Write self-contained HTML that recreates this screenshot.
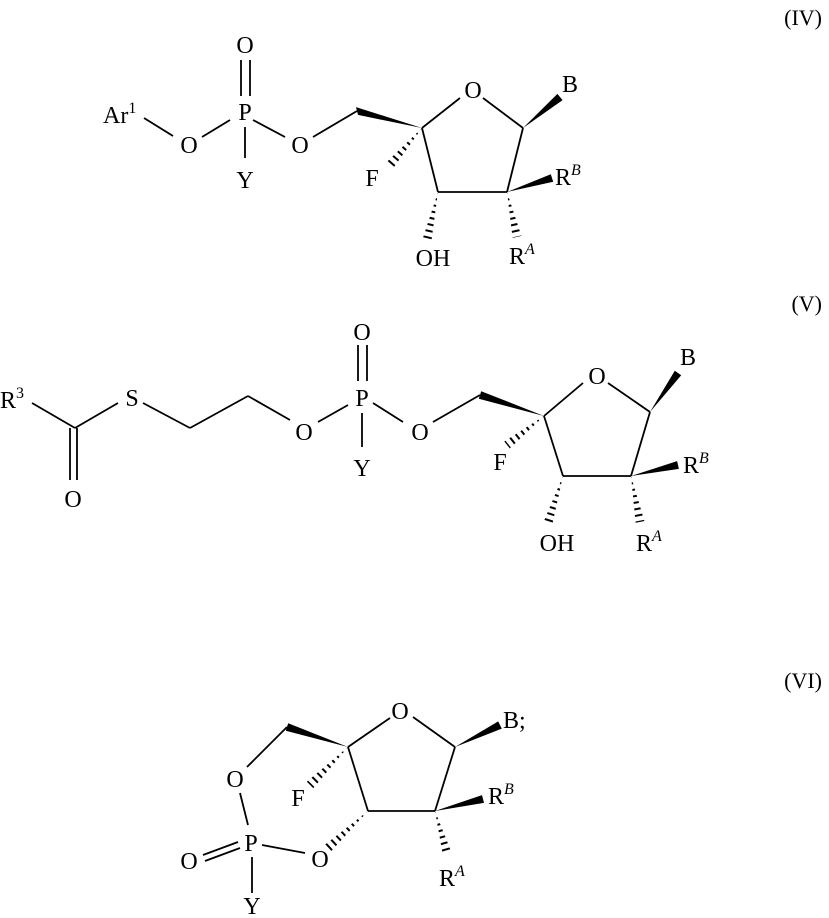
<!DOCTYPE html>
<html><head><meta charset="utf-8"><style>
html,body{margin:0;padding:0;background:#fff}
svg{display:block}
text{font-family:"Liberation Serif",serif;font-size:24px;fill:#000}
.s{font-size:16px}
.l{stroke:#000;stroke-width:1.8;fill:none}
.h{stroke:#000;stroke-width:12;stroke-dasharray:2 4.5}
</style></head><body>
<svg width="829" height="918" viewBox="0 0 829 918">
<defs>
<clipPath id="c1"><polygon points="422,128 393.4,167.9 386.6,162.1"/></clipPath>
<clipPath id="c2"><polygon points="438,192 431.4,241 422.6,239"/></clipPath>
<clipPath id="c3"><polygon points="507,192 521.4,236 512.6,238"/></clipPath>
<clipPath id="c4"><polygon points="544,416 509.8,448.5 504.2,441.5"/></clipPath>
<clipPath id="c5"><polygon points="563,476 552.3,524.4 543.7,521.6"/></clipPath>
<clipPath id="c6"><polygon points="631,476 644.4,521.1 635.6,522.9"/></clipPath>
<clipPath id="c7"><polygon points="368,811 331.1,851.3 324.9,844.7"/></clipPath>
<clipPath id="c8"><polygon points="348,747 313.2,788.2 306.8,781.8"/></clipPath>
<clipPath id="c9"><polygon points="435,811 451.3,851.8 442.7,854.2"/></clipPath>
</defs>

<text x="822" y="25" text-anchor="end" style="font-size:22px">(IV)</text>
<text x="822" y="311" text-anchor="end" style="font-size:22px">(V)</text>
<text x="822" y="688" text-anchor="end" style="font-size:22px">(VI)</text>

<!-- IV -->
<text x="103" y="123">Ar<tspan class="s" dy="-10">1</tspan></text>
<line class="l" x1="144" y1="118" x2="173" y2="136"/>
<text x="189" y="153" text-anchor="middle">O</text>
<line class="l" x1="202" y1="137" x2="230" y2="120"/>
<text x="245" y="120" text-anchor="middle">P</text>
<line class="l" x1="241" y1="60" x2="241" y2="96"/>
<line class="l" x1="250" y1="60" x2="250" y2="96"/>
<text x="245" y="53" text-anchor="middle">O</text>
<line class="l" x1="245" y1="127" x2="245" y2="158"/>
<text x="245" y="188" text-anchor="middle">Y</text>
<line class="l" x1="253" y1="120" x2="285" y2="137"/>
<text x="300" y="153" text-anchor="middle">O</text>
<line class="l" x1="313" y1="137" x2="357" y2="111"/>
<polygon points="356,107.1 358,114.9 422,128"/>
<line class="l" x1="422" y1="128" x2="460" y2="98"/>
<text x="473" y="98" text-anchor="middle">O</text>
<line class="l" x1="483" y1="98" x2="523" y2="128"/>
<polygon points="523,128 557.4,93.9 562.6,100.1"/>
<text x="570" y="92" text-anchor="middle">B</text>
<line class="l" x1="523" y1="128" x2="507" y2="192"/>
<line class="l" x1="507" y1="192" x2="438" y2="192"/>
<line class="l" x1="438" y1="192" x2="422" y2="128"/>
<line class="h" x1="422" y1="128" x2="390" y2="165" clip-path="url(#c1)"/>
<text x="372" y="186" text-anchor="middle">F</text>
<line class="h" x1="438" y1="192" x2="427" y2="240" clip-path="url(#c2)"/>
<text x="433" y="266" text-anchor="middle">OH</text>
<polygon points="507,192 550.8,174.2 553.2,181.8"/>
<text x="555" y="185">R<tspan class="s" font-style="italic" dy="-10">B</tspan></text>
<line class="h" x1="507" y1="192" x2="517" y2="237" clip-path="url(#c3)"/>
<text x="509" y="264">R<tspan class="s" font-style="italic" dy="-10">A</tspan></text>

<!-- V -->
<text x="0" y="408">R<tspan class="s" dy="-10">3</tspan></text>
<line class="l" x1="32" y1="403" x2="75" y2="428"/>
<line class="l" x1="70" y1="428" x2="70" y2="480"/>
<line class="l" x1="77" y1="428" x2="77" y2="480"/>
<text x="73" y="507" text-anchor="middle">O</text>
<line class="l" x1="75" y1="428" x2="118" y2="403"/>
<text x="132" y="406" text-anchor="middle">S</text>
<line class="l" x1="143" y1="403" x2="190" y2="428"/>
<line class="l" x1="190" y1="428" x2="248" y2="396"/>
<line class="l" x1="248" y1="396" x2="290" y2="420"/>
<text x="304" y="440" text-anchor="middle">O</text>
<line class="l" x1="318" y1="422" x2="348" y2="405"/>
<text x="362" y="406" text-anchor="middle">P</text>
<line class="l" x1="358" y1="345" x2="358" y2="381"/>
<line class="l" x1="367" y1="345" x2="367" y2="381"/>
<text x="362" y="340" text-anchor="middle">O</text>
<line class="l" x1="362" y1="413" x2="362" y2="447"/>
<text x="362" y="476" text-anchor="middle">Y</text>
<line class="l" x1="373" y1="403" x2="403" y2="422"/>
<text x="420" y="440" text-anchor="middle">O</text>
<line class="l" x1="433" y1="422" x2="480" y2="395"/>
<polygon points="481.2,391.2 478.8,398.8 544,416"/>
<line class="l" x1="544" y1="416" x2="583" y2="383"/>
<text x="597" y="384" text-anchor="middle">O</text>
<line class="l" x1="608" y1="383" x2="650" y2="412"/>
<polygon points="650,412 674.8,370.7 681.2,375.3"/>
<text x="688" y="365" text-anchor="middle">B</text>
<line class="l" x1="650" y1="412" x2="631" y2="476"/>
<line class="l" x1="631" y1="476" x2="563" y2="476"/>
<line class="l" x1="563" y1="476" x2="544" y2="416"/>
<line class="h" x1="544" y1="416" x2="507" y2="445" clip-path="url(#c4)"/>
<text x="500" y="470" text-anchor="middle">F</text>
<line class="h" x1="563" y1="476" x2="548" y2="523" clip-path="url(#c5)"/>
<text x="557" y="551" text-anchor="middle">OH</text>
<polygon points="631,476 677.1,461.1 678.9,468.9"/>
<text x="683" y="473">R<tspan class="s" font-style="italic" dy="-10">B</tspan></text>
<line class="h" x1="631" y1="476" x2="640" y2="522" clip-path="url(#c6)"/>
<text x="636" y="551">R<tspan class="s" font-style="italic" dy="-10">A</tspan></text>

<!-- VI -->
<polygon points="288.2,723.2 285.8,730.8 348,747"/>
<line class="l" x1="287" y1="727" x2="247" y2="767"/>
<text x="235" y="787" text-anchor="middle">O</text>
<line class="l" x1="240" y1="793" x2="248" y2="825"/>
<text x="251" y="851" text-anchor="middle">P</text>
<line class="l" x1="203" y1="855" x2="238" y2="842"/>
<line class="l" x1="205" y1="861" x2="240" y2="848"/>
<text x="189" y="869" text-anchor="middle">O</text>
<line class="l" x1="252" y1="857" x2="252" y2="893"/>
<text x="252" y="914" text-anchor="middle">Y</text>
<line class="l" x1="262" y1="845" x2="305" y2="853"/>
<text x="320" y="867" text-anchor="middle">O</text>
<line class="h" x1="368" y1="811" x2="328" y2="848" clip-path="url(#c7)"/>
<line class="l" x1="348" y1="747" x2="390" y2="718"/>
<text x="400" y="719" text-anchor="middle">O</text>
<line class="l" x1="413" y1="717" x2="455" y2="747"/>
<polygon points="455,747 498.2,721.4 501.8,728.6"/>
<text x="503" y="728">B;</text>
<line class="l" x1="455" y1="747" x2="435" y2="811"/>
<line class="l" x1="435" y1="811" x2="368" y2="811"/>
<line class="l" x1="368" y1="811" x2="348" y2="747"/>
<line class="h" x1="348" y1="747" x2="310" y2="785" clip-path="url(#c8)"/>
<text x="298" y="806" text-anchor="middle">F</text>
<polygon points="435,811 482,795.1 484,802.9"/>
<text x="488" y="804">R<tspan class="s" font-style="italic" dy="-10">B</tspan></text>
<line class="h" x1="435" y1="811" x2="447" y2="853" clip-path="url(#c9)"/>
<text x="439" y="886">R<tspan class="s" font-style="italic" dy="-10">A</tspan></text>
</svg>
</body></html>
